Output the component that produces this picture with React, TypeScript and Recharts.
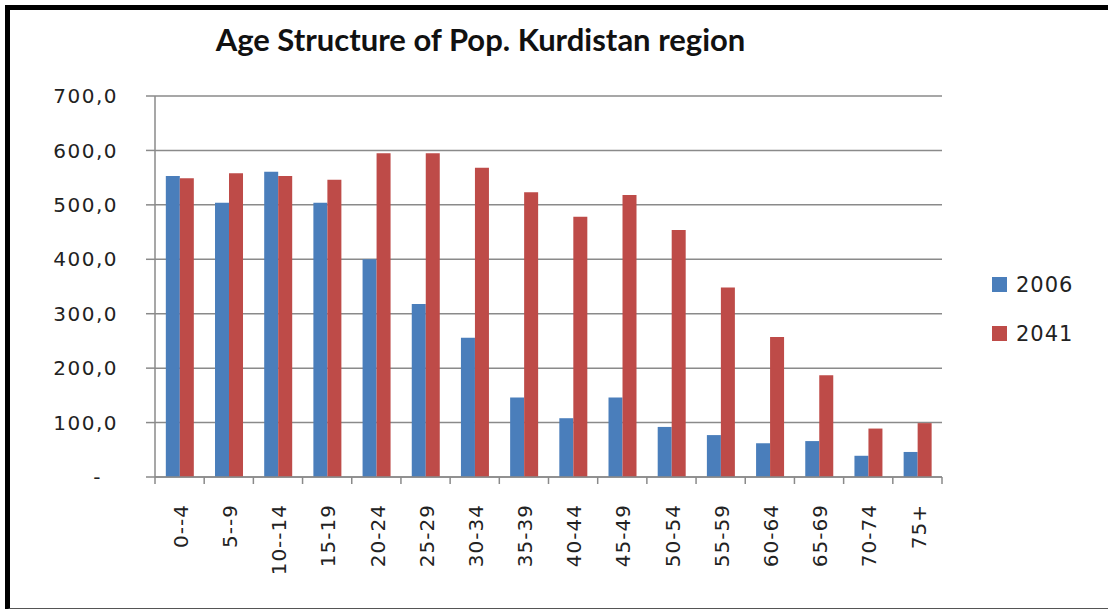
import React from 'react';
import { Bar, BarChart, CartesianGrid, XAxis, YAxis } from 'recharts';

// age groups as printed under the bars
const ageGroups = [
  '0--4', '5--9', '10--14', '15-19', '20-24', '25-29', '30-34', '35-39',
  '40-44', '45-49', '50-54', '55-59', '60-64', '65-69', '70-74', '75+',
];

// population (thousands)
const pop2006 = [553, 504, 561, 504, 400, 318, 256, 146, 108, 146, 92, 77, 62, 66, 39, 46];
const pop2041 = [549, 558, 553, 546, 595, 595, 568, 523, 478, 518, 454, 348, 257, 187, 89, 99];

const yTicks = [0, 100, 200, 300, 400, 500, 600, 700];

const series = [
  { key: 'y2006', label: '2006', color: '#4A7EBB' },
  { key: 'y2041', label: '2041', color: '#BE4B48' },
];

const GRID = '#8A8A8A';
const FONT = 'DejaVu Sans, Verdana, sans-serif';

const W = 1108;
const H = 609;
const PLOT_LEFT = 155;
const PLOT_RIGHT = 942;
const PLOT_TOP = 96;
const PLOT_BOTTOM = 477;
const STEP = (PLOT_RIGHT - PLOT_LEFT) / ageGroups.length;

const data = ageGroups.map((name, i) => ({
  name,
  y2006: pop2006[i],
  y2041: pop2041[i],
}));

const fmt = (v: number) => (v === 0 ? '-' : v.toFixed(1).replace('.', ','));

const YTick = ({ x, y, payload }: any) => {
  const v = payload.value;
  return (
    <text
      x={v === 0 ? x - 16 : x}
      y={y}
      dy="0.36em"
      textAnchor="end"
      fontFamily={FONT}
      fontSize={20}
      letterSpacing={1.5}
      fill="#222"
    >
      {fmt(v)}
    </text>
  );
};

const XTick = ({ x, y, payload, index }: any) => (
  <g>
    <line x1={x - STEP / 2} y1={y} x2={x - STEP / 2} y2={y + 7} stroke={GRID} strokeWidth={1.5} />
    {index === ageGroups.length - 1 && (
      <line x1={x + STEP / 2} y1={y} x2={x + STEP / 2} y2={y + 7} stroke={GRID} strokeWidth={1.5} />
    )}
    <text
      transform={`translate(${x + 1},${y + 27}) rotate(-90)`}
      dy="0.36em"
      textAnchor="end"
      fontFamily={FONT}
      fontSize={20}
      letterSpacing={1}
      fill="#222"
    >
      {payload.value}
    </text>
  </g>
);

export default function App() {
  return (
    <div style={{ position: 'absolute', left: 0, top: 0, width: W, height: H, background: '#fff' }}>
      <div
        style={{
          position: 'absolute',
          left: 5,
          top: 5,
          width: 1098,
          height: 598,
          borderLeft: '5px solid #000',
          borderTop: '5px solid #000',
          borderRight: '2px solid #555',
          borderBottom: '2px solid #555',
        }}
      />
      <div
        style={{
          position: 'absolute',
          left: 0,
          width: 961,
          top: 20,
          textAlign: 'center',
          fontFamily: 'Lato, sans-serif',
          fontWeight: 700,
          fontSize: 31,
          color: '#111',
        }}
      >
        Age Structure of Pop. Kurdistan region
      </div>
      <div style={{ position: 'absolute', left: 0, top: 0 }}>
        <BarChart
          width={W}
          height={H}
          data={data}
          margin={{ top: PLOT_TOP, right: W - PLOT_RIGHT, bottom: 0, left: 0 }}
          barCategoryGap="22%"
          barGap={0}
        >
          <CartesianGrid vertical={false} stroke={GRID} strokeWidth={1.5} />
          <XAxis
            dataKey="name"
            interval={0}
            height={H - PLOT_BOTTOM}
            stroke={GRID}
            strokeWidth={1.5}
            tickLine={false}
            tickSize={0}
            tickMargin={0}
            tick={<XTick />}
          />
          <YAxis
            domain={[0, 700]}
            ticks={yTicks}
            width={PLOT_LEFT}
            stroke={GRID}
            strokeWidth={1.5}
            tickSize={9}
            tickMargin={28}
            tick={<YTick />}
          />
          {series.map((s) => (
            <Bar key={s.key} dataKey={s.key} name={s.label} fill={s.color} isAnimationActive={false} />
          ))}
        </BarChart>
      </div>
      <div
        style={{
          position: 'absolute',
          left: 992,
          top: 260,
          fontFamily: FONT,
          fontSize: 21,
          letterSpacing: 1,
          color: '#222',
        }}
      >
        {series.map((s) => (
          <div key={s.key} style={{ display: 'flex', alignItems: 'center', height: 49 }}>
            <span style={{ width: 15, height: 15, background: s.color, marginRight: 9 }} />
            <span>{s.label}</span>
          </div>
        ))}
      </div>
    </div>
  );
}
